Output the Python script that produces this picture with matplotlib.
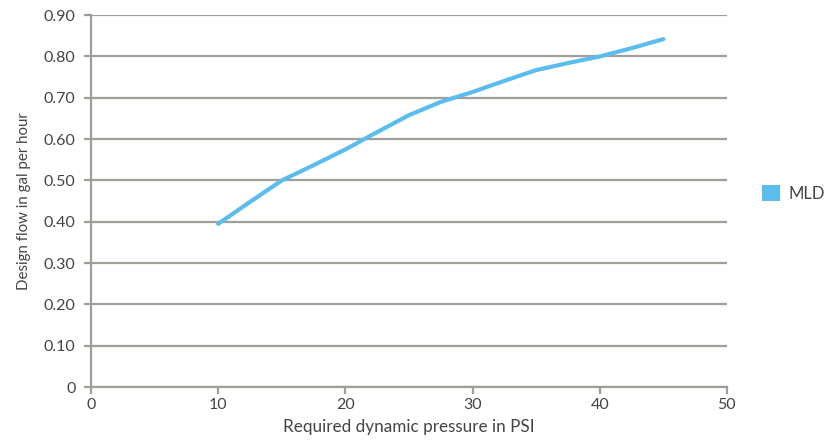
import matplotlib.pyplot as plt
from matplotlib.patches import Patch

# -------------------------
# Data
# -------------------------
pressure_psi = [10, 12.5, 15, 17.5, 20, 22.5, 25, 27.5, 30, 32.5, 35, 37.5, 40, 42.5, 45]
flow_gph = [0.395, 0.448, 0.500, 0.537, 0.575, 0.617, 0.658, 0.690, 0.714, 0.741,
            0.767, 0.784, 0.800, 0.820, 0.842]

y_ticks = [0, 0.1, 0.2, 0.3, 0.4, 0.5, 0.6, 0.7, 0.8, 0.9]
y_labels = ["0", "0.10", "0.20", "0.30", "0.40", "0.50", "0.60", "0.70", "0.80", "0.90"]
x_ticks = [0, 10, 20, 30, 40, 50]

line_color = "#5bbdee"
grid_color = "#a19d99"
text_color = "#444444"

plt.rcParams["font.family"] = ["Lato", "DejaVu Sans"]

fig = plt.figure(figsize=(8.27, 4.45), dpi=100)
ax = fig.add_axes([0.110, 0.130, 0.769, 0.836])

ax.plot(pressure_psi, flow_gph, color=line_color, linewidth=3, solid_capstyle="round",
        solid_joinstyle="round", zorder=3)

ax.set_xlim(0, 50)
ax.set_ylim(0, 0.9)
ax.set_xticks(x_ticks)
ax.set_yticks(y_ticks)
ax.set_yticklabels(y_labels)

ax.yaxis.grid(True, color=grid_color, linewidth=1.6)
ax.set_axisbelow(True)
for side in ["top", "right"]:
    ax.spines[side].set_visible(False)
for side in ["left", "bottom"]:
    ax.spines[side].set_color(grid_color)
    ax.spines[side].set_linewidth(1.6)

ax.tick_params(axis="both", colors=grid_color, labelcolor=text_color, labelsize=11.5,
               length=5, width=1.6)
ax.tick_params(axis="y", pad=6)
ax.tick_params(axis="x", pad=3)

ax.set_xlabel("Required dynamic pressure in PSI", fontsize=12.3, color=text_color, labelpad=5)
ax.set_ylabel("Design flow in gal per hour", fontsize=10.8, color=text_color, labelpad=9)

# legend: single square swatch to the right of the plot
handles = [Patch(facecolor=line_color, edgecolor="none", label="MLD")]
fig.legend(handles=handles, loc="center left", bbox_to_anchor=(0.921, 0.565), frameon=False,
           fontsize=12, handlelength=1.1, handleheight=1.1, labelcolor=text_color,
           handletextpad=0.5, borderpad=0, borderaxespad=0)

fig.savefig("out.png", dpi=100)
